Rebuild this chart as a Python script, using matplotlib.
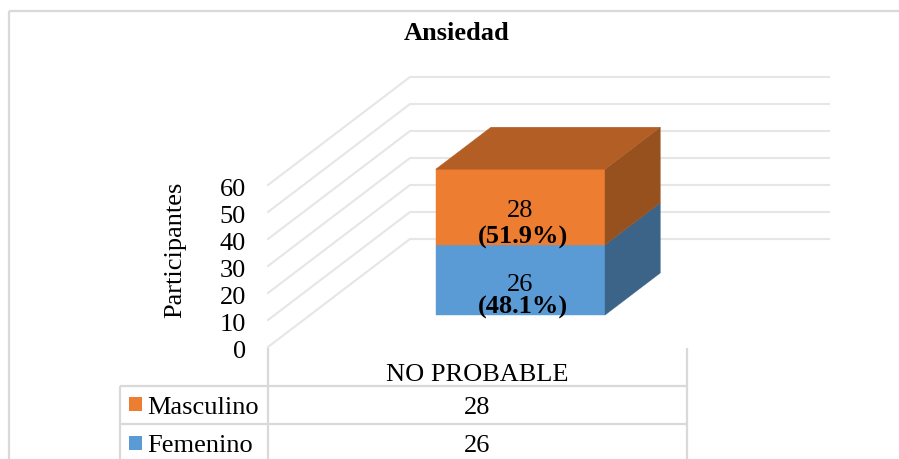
import matplotlib
matplotlib.use("Agg")
import matplotlib.pyplot as plt
from matplotlib.lines import Line2D
from matplotlib.patches import Polygon, Rectangle
from matplotlib.transforms import ScaledTranslation

# ---- data ----
title = "Ansiedad"
y_label = "Participantes"
category = "NO PROBABLE"
series_names = ["Femenino", "Masculino"]
series_values = [26, 28]
series_percent = ["(48.1%)", "(51.9%)"]
y_ticks = [0, 10, 20, 30, 40, 50, 60]

# ---- style ----
W, H = 899, 459
front = ["#5B9BD5", "#ED7D31"]
side = ["#3B6488", "#97511F"]
top_col = "#B35E25"
frame_col = "#D9D9D9"
grid_col = "#E6E6E6"
FS = 19
count_offset_pt = [-4, -3]
percent_offset_pt = [-19.5, -22]
plt.rcParams["font.family"] = ["Liberation Serif", "DejaVu Serif"]

fig = plt.figure(figsize=(W / 100, H / 100), dpi=100)

def fx(x): return x / W
def fy(y): return 1 - y / H

def fline(x0, y0, x1, y1, color=frame_col, lw=1.6):
    fig.add_artist(Line2D([fx(x0), fx(x1)], [fy(y0), fy(y1)], color=color, lw=lw,
                          solid_capstyle="butt"))

# chart frame
fline(9, 11, 899, 11)
fline(9, 11, 9, 459)

# axes = floor front edge (x 0..1) and value scale
L, R, Y0, Y60 = 268, 687, 347, 185
ax = fig.add_axes([fx(L), fy(Y0), fx(R - L), (Y0 - Y60) / H])
ax.set_xlim(0, 1)
ax.set_ylim(0, 60)
ax.patch.set_alpha(0)
for s in ax.spines.values():
    s.set_visible(False)
ax.set_yticks(y_ticks)
ax.tick_params(axis="y", length=0, pad=16, labelsize=FS)
ax.set_xticks([0.5], [category])
ax.tick_params(axis="x", length=0, pad=12.5, labelsize=FS)
shift = ScaledTranslation(0, -1.5 / 72, fig.dpi_scale_trans)
for lab in ax.get_yticklabels():
    lab.set_transform(lab.get_transform() + shift)
ax.set_ylabel(y_label, fontsize=FS)
ax.yaxis.set_label_coords((186 - L) / (R - L), (Y0 - 250) / (Y0 - Y60))

# oblique projection: depth 0..1 moves right and up
DX = 142 / (R - L)
DV = 108 / 2.7

def proj(x, v, d):
    return (x + d * DX, v + d * DV)

def poly(pts, color, z):
    ax.add_patch(Polygon(pts, closed=True, facecolor=color, edgecolor=color, lw=0.3,
                         clip_on=False, zorder=z))

# gridlines on side wall and back wall
for v in y_ticks:
    a, b = proj(0, v, 0), proj(0, v, 1)
    c = proj(1, v, 1)
    ax.plot([a[0], b[0], c[0]], [a[1], b[1], c[1]], color=grid_col, lw=1.5,
            clip_on=False, zorder=1)

# stacked 3D bar
x0, x1, d0, d1 = 0.30, 0.704, 0.296, 0.685
base = 0
for i, val in enumerate(series_values):
    t = base + val
    poly([proj(x0, base, d0), proj(x1, base, d0), proj(x1, t, d0), proj(x0, t, d0)], front[i], 3)
    poly([proj(x1, base, d0), proj(x1, base, d1), proj(x1, t, d1), proj(x1, t, d0)], side[i], 3)
    cx, cy = proj((x0 + x1) / 2, base + val / 2, d0)
    ax.annotate(str(val), (cx, cy), xytext=(0, count_offset_pt[i]), textcoords="offset points",
                ha="center", va="center", fontsize=FS, zorder=5, annotation_clip=False)
    ax.annotate(series_percent[i], (cx, cy), xytext=(2, percent_offset_pt[i]),
                textcoords="offset points", ha="center", va="center", fontsize=FS,
                fontweight="bold", zorder=6, annotation_clip=False)
    base = t
poly([proj(x0, base, d0), proj(x1, base, d0), proj(x1, base, d1), proj(x0, base, d1)], top_col, 4)

# title
fig.text(fx(457), fy(33.5), title, ha="center", va="center", fontsize=FS, fontweight="bold")

# data table
T_L, T_M, T_R = 120, 268, 687
rows_y = [386, 424]
fline(T_M, 348, T_M, 459)
fline(T_R, 348, T_R, 459)
fline(T_L, rows_y[0], T_L, 459)
for y in rows_y:
    fline(T_L, y, T_R, y)
row_order = [1, 0]
row_text_y = [407.5, 446.5]
key_y = [404, 443]
for yy, ky, i in zip(row_text_y, key_y, row_order):
    fig.add_artist(Rectangle((fx(129), fy(ky + 7)), 13 / W, 14 / H, transform=fig.transFigure,
                             facecolor=front[i], edgecolor="none"))
    fig.text(fx(147.5), fy(yy), series_names[i], ha="left", va="center", fontsize=FS)
    fig.text(fx(477), fy(yy), str(series_values[i]), ha="center", va="center", fontsize=FS)

fig.savefig("out.png", dpi=100)
